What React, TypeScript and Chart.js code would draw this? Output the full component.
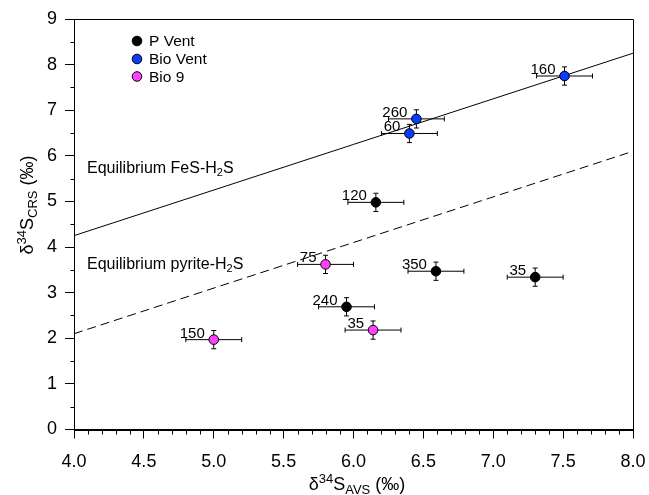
import React, { useEffect, useRef } from "react";
import { Chart, registerables } from "chart.js";

Chart.register(...registerables);

const FONT = '"Liberation Sans", Arial, Helvetica, sans-serif';

// P Vent
const pVentX = [6.16, 6.59, 7.3, 5.95];
const pVentY = [4.98, 3.47, 3.34, 2.69];
const pVentXErr = [0.2, 0.2, 0.2, 0.2];
const pVentYErr = [0.2, 0.2, 0.2, 0.2];
const pVentLabels = ["120", "350", "35", "240"];

// Bio Vent
const bioVentX = [7.51, 6.45, 6.4];
const bioVentY = [7.75, 6.81, 6.49];
const bioVentXErr = [0.2, 0.2, 0.2];
const bioVentYErr = [0.2, 0.2, 0.2];
const bioVentLabels = ["160", "260", "60"];

// Bio 9
const bio9X = [5.8, 5.0, 6.14];
const bio9Y = [3.62, 1.97, 2.18];
const bio9XErr = [0.2, 0.2, 0.2];
const bio9YErr = [0.2, 0.2, 0.2];
const bio9Labels = ["75", "150", "35"];

// Equilibrium lines (end points)
const fesLineX = [4, 8];
const fesLineY = [4.25, 8.25];
const pyriteLineX = [4, 8];
const pyriteLineY = [2.1, 6.1];

const seriesNames = ["P Vent", "Bio Vent", "Bio 9"];
const seriesColors = ["#000000", "#0a3cff", "#ff40ff"];

const xMin = 4, xMax = 8, xStep = 0.5, xMinor = 0.1;
const yMin = 0, yMax = 9, yStep = 1, yMinor = 0.5;

const pts = (xs: number[], ys: number[]) => xs.map((x, i) => ({ x, y: ys[i] }));

type Part = { t: string; s: number; dy: number };
function drawRich(ctx: CanvasRenderingContext2D, parts: Part[], x: number, y: number, align: string) {
  let w = 0;
  const widths = parts.map((p) => {
    ctx.font = `${p.s}px ${FONT}`;
    const m = ctx.measureText(p.t).width;
    w += m;
    return m;
  });
  let cx = align === "center" ? x - w / 2 : align === "right" ? x - w : x;
  ctx.textAlign = "left";
  ctx.textBaseline = "alphabetic";
  parts.forEach((p, i) => {
    ctx.font = `${p.s}px ${FONT}`;
    ctx.fillText(p.t, cx, y + p.dy);
    cx += widths[i];
  });
}

const errSets = [
  { xs: pVentX, ys: pVentY, xe: pVentXErr, ye: pVentYErr, labels: pVentLabels },
  { xs: bioVentX, ys: bioVentY, xe: bioVentXErr, ye: bioVentYErr, labels: bioVentLabels },
  { xs: bio9X, ys: bio9Y, xe: bio9XErr, ye: bio9YErr, labels: bio9Labels },
];

const customPlugin = {
  id: "custom",
  beforeDatasetsDraw(chart: any) {
    const ctx = chart.ctx as CanvasRenderingContext2D;
    const xs = chart.scales.x, ys = chart.scales.y;
    ctx.save();
    ctx.strokeStyle = "#000";
    ctx.lineWidth = 1;
    const cap = 2.5;
    errSets.forEach((s) => {
      s.xs.forEach((xv, i) => {
        const yv = s.ys[i];
        const px = xs.getPixelForValue(xv);
        const py = ys.getPixelForValue(yv);
        const x1 = xs.getPixelForValue(xv - s.xe[i]);
        const x2 = xs.getPixelForValue(xv + s.xe[i]);
        const y1 = ys.getPixelForValue(yv - s.ye[i]);
        const y2 = ys.getPixelForValue(yv + s.ye[i]);
        ctx.beginPath();
        ctx.moveTo(x1, py); ctx.lineTo(x2, py);
        ctx.moveTo(x1, py - cap); ctx.lineTo(x1, py + cap);
        ctx.moveTo(x2, py - cap); ctx.lineTo(x2, py + cap);
        ctx.moveTo(px, y1); ctx.lineTo(px, y2);
        ctx.moveTo(px - cap, y1); ctx.lineTo(px + cap, y1);
        ctx.moveTo(px - cap, y2); ctx.lineTo(px + cap, y2);
        ctx.stroke();
      });
    });
    ctx.restore();
  },
  afterDatasetsDraw(chart: any) {
    const ctx = chart.ctx as CanvasRenderingContext2D;
    const xs = chart.scales.x, ys = chart.scales.y;
    ctx.save();
    ctx.fillStyle = "#000";
    ctx.font = `15px ${FONT}`;
    ctx.textAlign = "right";
    ctx.textBaseline = "alphabetic";
    errSets.forEach((s) => {
      s.xs.forEach((xv, i) => {
        const px = xs.getPixelForValue(xv);
        const py = ys.getPixelForValue(s.ys[i]);
        ctx.fillText(s.labels[i], px - 9, py - 2);
      });
    });
    ctx.restore();
  },
  afterDraw(chart: any) {
    const ctx = chart.ctx as CanvasRenderingContext2D;
    const area = chart.chartArea;
    const xs = chart.scales.x, ys = chart.scales.y;
    ctx.save();
    ctx.strokeStyle = "#000";
    ctx.lineWidth = 1;
    // frame
    ctx.beginPath();
    ctx.rect(Math.round(area.left) + 0.5, Math.round(area.top) + 0.5,
      Math.round(area.right) - Math.round(area.left), Math.round(area.bottom) - Math.round(area.top));
    ctx.stroke();
    // minor ticks
    ctx.beginPath();
    const bottom = Math.round(area.bottom) + 0.5;
    for (let v = xMin; v <= xMax + 1e-9; v += xMinor) {
      const r = Math.round(v * 10) / 10;
      if (Math.abs(r / xStep - Math.round(r / xStep)) < 1e-6) continue;
      const px = Math.round(xs.getPixelForValue(r)) + 0.5;
      ctx.moveTo(px, bottom);
      ctx.lineTo(px, bottom + 4);
    }
    const left = Math.round(area.left) + 0.5;
    for (let v = yMin; v <= yMax + 1e-9; v += yMinor) {
      if (Math.abs(v / yStep - Math.round(v / yStep)) < 1e-6) continue;
      const py = Math.round(ys.getPixelForValue(v)) + 0.5;
      ctx.moveTo(left, py);
      ctx.lineTo(left - 4, py);
    }
    ctx.stroke();

    ctx.fillStyle = "#000";
    // annotations
    drawRich(ctx, [
      { t: "Equilibrium FeS-H", s: 16, dy: 0 },
      { t: "2", s: 11, dy: 3 },
      { t: "S", s: 16, dy: 0 },
    ], 87, 173, "left");
    drawRich(ctx, [
      { t: "Equilibrium pyrite-H", s: 16, dy: 0 },
      { t: "2", s: 11, dy: 3 },
      { t: "S", s: 16, dy: 0 },
    ], 87, 268.5, "left");

    // legend
    const legY = [41, 59, 76.5];
    seriesNames.forEach((n, i) => {
      ctx.beginPath();
      ctx.arc(137, legY[i], 4.8, 0, Math.PI * 2);
      ctx.fillStyle = seriesColors[i];
      ctx.fill();
      ctx.strokeStyle = "#000";
      ctx.stroke();
      ctx.fillStyle = "#000";
      ctx.font = `15.5px ${FONT}`;
      ctx.textAlign = "left";
      ctx.textBaseline = "middle";
      ctx.fillText(n, 149, legY[i] + 1);
    });

    // x title
    drawRich(ctx, [
      { t: "\u03B4", s: 18, dy: 0 },
      { t: "34", s: 13, dy: -7 },
      { t: "S", s: 18, dy: 0 },
      { t: "AVS", s: 13, dy: 4 },
      { t: " (\u2030)", s: 18, dy: 0 },
    ], 357, 490, "center");

    // y title
    ctx.save();
    ctx.translate(33, 205);
    ctx.rotate(-Math.PI / 2);
    drawRich(ctx, [
      { t: "\u03B4", s: 18, dy: 0 },
      { t: "34", s: 13, dy: -7 },
      { t: "S", s: 18, dy: 0 },
      { t: "CRS", s: 13, dy: 4 },
      { t: " (\u2030)", s: 18, dy: 0 },
    ], 0, 0, "center");
    ctx.restore();
    ctx.restore();
  },
};

export default function App() {
  const ref = useRef<HTMLCanvasElement | null>(null);
  useEffect(() => {
    if (!ref.current) return;
    const mk = (i: number, xs: number[], ys: number[]) => ({
      type: "scatter" as const,
      label: seriesNames[i],
      data: pts(xs, ys),
      backgroundColor: seriesColors[i],
      borderColor: "#000",
      borderWidth: 1,
      pointRadius: 4.8,
      showLine: false,
    });
    const chart = new Chart(ref.current, {
      type: "scatter",
      data: {
        datasets: [
          mk(0, pVentX, pVentY),
          mk(1, bioVentX, bioVentY),
          mk(2, bio9X, bio9Y),
          {
            type: "line",
            label: "Equilibrium FeS-H2S",
            data: pts(fesLineX, fesLineY),
            borderColor: "#000",
            borderWidth: 1,
            pointRadius: 0,
            showLine: true,
          } as any,
          {
            type: "line",
            label: "Equilibrium pyrite-H2S",
            data: pts(pyriteLineX, pyriteLineY),
            borderColor: "#000",
            borderWidth: 1,
            borderDash: [9, 5],
            pointRadius: 0,
            showLine: true,
          } as any,
        ],
      },
      options: {
        animation: false,
        responsive: false,
        layout: { padding: { top: 19, right: 16, left: 0, bottom: 0 } },
        plugins: { legend: { display: false }, tooltip: { enabled: false } },
        scales: {
          x: {
            type: "linear",
            min: xMin,
            max: xMax,
            afterFit: (s: any) => { s.height = 65.5; s.paddingLeft = 0; s.paddingRight = 0; },
            ticks: {
              stepSize: xStep,
              color: "#000",
              font: { size: 18, family: FONT },
              padding: 13,
              maxRotation: 0,
              callback: (v: any) => Number(v).toFixed(1),
            },
            grid: { drawOnChartArea: false, drawTicks: true, tickLength: 9, tickColor: "#000", tickWidth: 1 },
            border: { display: true, color: "#000", width: 1 },
          },
          y: {
            type: "linear",
            min: yMin,
            max: yMax,
            afterFit: (s: any) => { s.width = 74; s.paddingTop = 0; s.paddingBottom = 0; },
            ticks: {
              stepSize: yStep,
              color: "#000",
              font: { size: 18, family: FONT },
              padding: 8,
              callback: (v: any) => String(v),
            },
            grid: { drawOnChartArea: false, drawTicks: true, tickLength: 9, tickColor: "#000", tickWidth: 1 },
            border: { display: true, color: "#000", width: 1 },
          },
        },
      },
      plugins: [customPlugin],
    } as any);
    return () => chart.destroy();
  }, []);
  return (
    <div style={{ position: "absolute", left: 0, top: 0, width: 649, height: 495, background: "#fff" }}>
      <canvas ref={ref} width={649} height={495} style={{ width: 649, height: 495, display: "block" }} />
    </div>
  );
}
